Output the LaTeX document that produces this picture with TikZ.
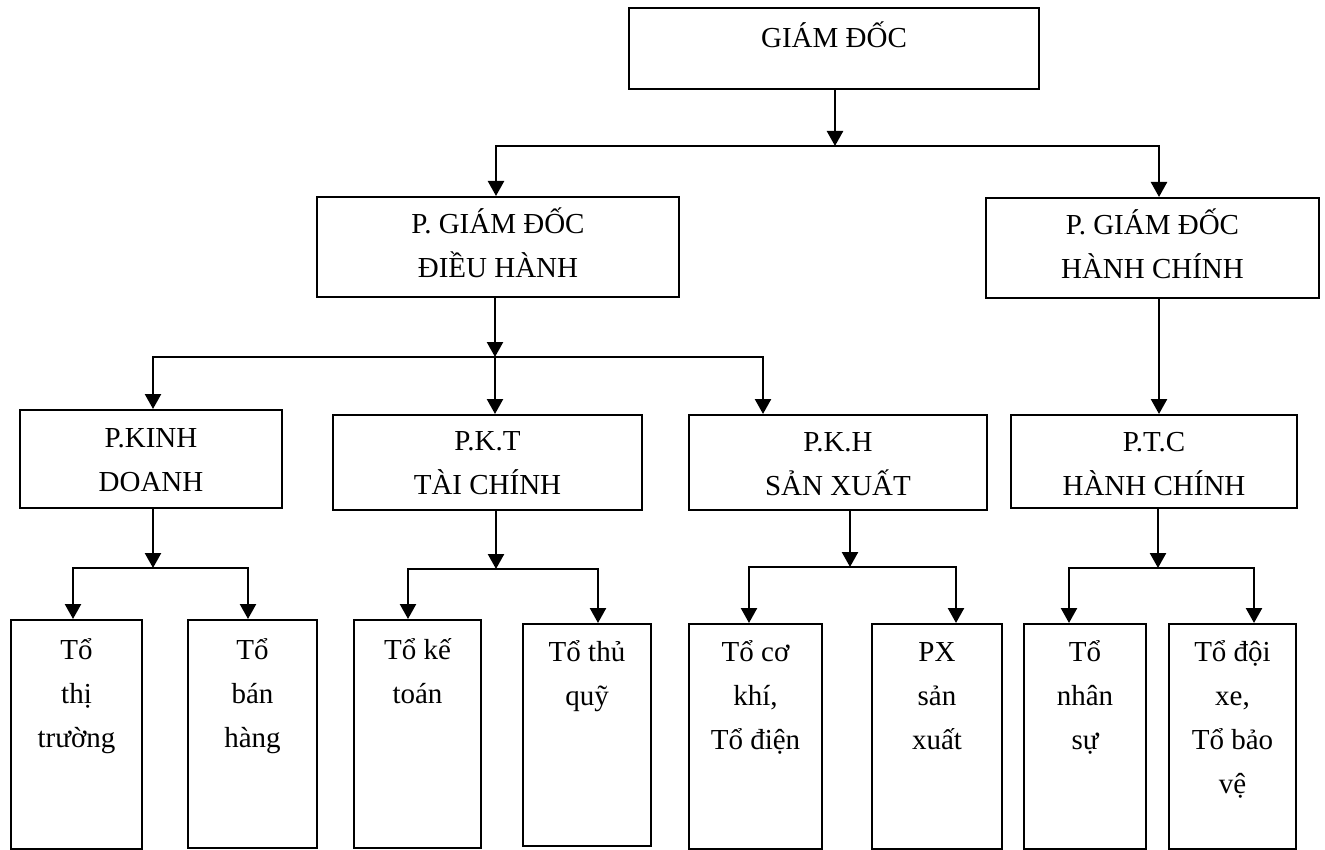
\documentclass[tikz,border=0pt]{standalone}
\usepackage{fontspec}
\setmainfont{Liberation Serif}
\usetikzlibrary{arrows.meta,positioning}
\newcommand{\strt}{\rule{0pt}{32pt}}

\begin{document}
\begin{tikzpicture}[x=1pt,y=-1pt,
    box/.style={draw, line width=2pt, inner sep=0pt, anchor=north west},
    txt/.style={anchor=north, align=center, inner sep=0pt,
      font=\fontsize{29}{44}\selectfont},
    arr/.style={-{Triangle[length=15pt,width=16pt]}, line width=2.4pt},
    arrs/.style={{Triangle[length=15pt,width=16pt]}-{Triangle[length=15pt,width=16pt]},
      line width=2.4pt}]
    \useasboundingbox (0,0) rectangle (1325,850);
    \node[box, minimum width=410pt, minimum height=81pt] (gd) at (628,7) {};
    \node[txt, below=8pt of gd.north] (gd-t) {\strt GIÁM ĐỐC};
    \node[box, minimum width=362pt, minimum height=100pt] (dh) at (316,196) {};
    \node[txt, below=5pt of dh.north] (dh-t) {\strt P. GIÁM ĐỐC\\ĐIỀU HÀNH};
    \node[box, minimum width=333pt, minimum height=100pt] (hc) at (985,197) {};
    \node[txt, below=5pt of hc.north] (hc-t) {\strt P. GIÁM ĐỐC\\HÀNH CHÍNH};
    \node[box, minimum width=262pt, minimum height=98pt] (kd) at (19,409) {};
    \node[txt, below=6pt of kd.north] (kd-t) {\strt P.KINH\\DOANH};
    \node[box, minimum width=309pt, minimum height=95pt] (kt) at (332,414) {};
    \node[txt, below=4pt of kt.north] (kt-t) {\strt P.K.T\\TÀI CHÍNH};
    \node[box, minimum width=298pt, minimum height=95pt] (kh) at (688,414) {};
    \node[txt, below=5pt of kh.north] (kh-t) {\strt P.K.H\\SẢN XUẤT};
    \node[box, minimum width=286pt, minimum height=93pt] (tc) at (1010,414) {};
    \node[txt, below=5pt of tc.north] (tc-t) {\strt P.T.C\\HÀNH CHÍNH};
    \node[box, minimum width=131pt, minimum height=229pt] (tt) at (10,619) {};
    \node[txt, below=8pt of tt.north] (tt-t) {\strt Tổ\\thị\\trường};
    \node[box, minimum width=129pt, minimum height=228pt] (bh) at (187,619) {};
    \node[txt, below=8pt of bh.north] (bh-t) {\strt Tổ\\bán\\hàng};
    \node[box, minimum width=127pt, minimum height=228pt] (kto) at (353,619) {};
    \node[txt, below=8pt of kto.north] (kto-t) {\strt Tổ kế\\toán};
    \node[box, minimum width=128pt, minimum height=222pt] (tq) at (522,623) {};
    \node[txt, below=6pt of tq.north] (tq-t) {\strt Tổ thủ\\quỹ};
    \node[box, minimum width=133pt, minimum height=225pt] (ck) at (688,623) {};
    \node[txt, below=6pt of ck.north] (ck-t) {\strt Tổ cơ\\khí,\\Tổ điện};
    \node[box, minimum width=130pt, minimum height=225pt] (px) at (871,623) {};
    \node[txt, below=6pt of px.north] (px-t) {\strt PX\\sản\\xuất};
    \node[box, minimum width=122pt, minimum height=225pt] (ns) at (1023,623) {};
    \node[txt, below=6pt of ns.north] (ns-t) {\strt Tổ\\nhân\\sự};
    \node[box, minimum width=127pt, minimum height=225pt] (dx) at (1168,623) {};
    \node[txt, below=6pt of dx.north] (dx-t) {\strt Tổ đội\\xe,\\Tổ bảo\\vệ};
    \coordinate (j0) at (835,146); \coordinate (j0l) at (496,146);
    \coordinate (j0r) at (1159,146);
    \draw[arr] (gd.south -| j0) -- (j0);
    \draw[arrs] (dh.north -| j0l) -- (j0l) -- (j0r) -- (hc.north -| j0r);
    \coordinate (j1) at (495,357); \coordinate (j1l) at (153,357);
    \coordinate (j1r) at (763,357);
    \draw[arr] (dh.south -| j1) -- (j1);
    \draw[arrs] (kd.north -| j1l) -- (j1l) -- (j1r) -- (kh.north -| j1r);
    \draw[arr] (j1) -- (kt.north -| j1);
    \draw[arr] (hc.south -| j0r) -- (tc.north -| j0r);
    \coordinate (k1) at (153,568); \coordinate (k1l) at (73,568);
    \coordinate (k1r) at (248,568);
    \draw[arr] (kd.south -| k1) -- (k1);
    \draw[arrs] (tt.north -| k1l) -- (k1l) -- (k1r) -- (bh.north -| k1r);
    \coordinate (k2) at (496,569); \coordinate (k2l) at (408,569);
    \coordinate (k2r) at (598,569);
    \draw[arr] (kt.south -| k2) -- (k2);
    \draw[arrs] (kto.north -| k2l) -- (k2l) -- (k2r) -- (tq.north -| k2r);
    \coordinate (k3) at (850,567); \coordinate (k3l) at (749,567);
    \coordinate (k3r) at (956,567);
    \draw[arr] (kh.south -| k3) -- (k3);
    \draw[arrs] (ck.north -| k3l) -- (k3l) -- (k3r) -- (px.north -| k3r);
    \coordinate (k4) at (1158,568); \coordinate (k4l) at (1069,568);
    \coordinate (k4r) at (1254,568);
    \draw[arr] (tc.south -| k4) -- (k4);
    \draw[arrs] (ns.north -| k4l) -- (k4l) -- (k4r) -- (dx.north -| k4r);
  \end{tikzpicture}
\end{document}
